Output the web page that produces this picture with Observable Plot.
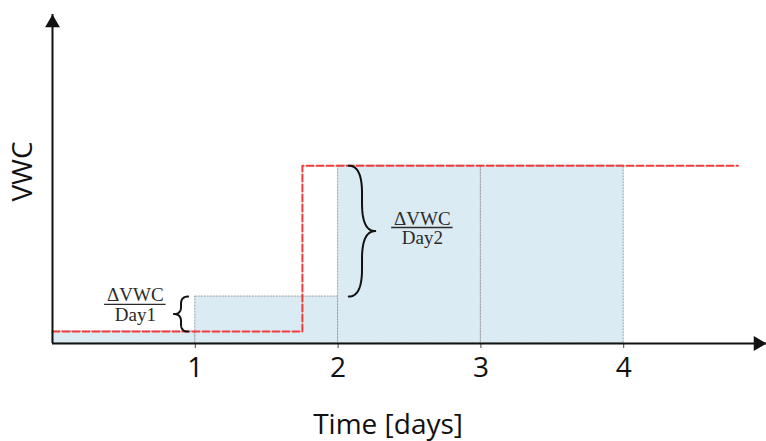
<!DOCTYPE html>
<html>
<head>
<meta charset="utf-8">
<script src="https://cdn.jsdelivr.net/npm/d3@7"></script>
<script src="https://cdn.jsdelivr.net/npm/@observablehq/plot@0.6"></script>
<style>
  html, body { margin: 0; padding: 0; background: #fff; }
  #chart svg { display: block; }
</style>
</head>
<body>
<div id="chart"></div>
<script>
// ---- data ----
const dayStart = [0, 1, 2, 3];
const dayEnd = [1, 2, 3, 4];
const vwcDaily = [0.067, 0.264, 1.0, 1.0];
const sensorTime = [0, 1.75, 4.8];
const sensorVWC = [0.067, 1.0, 1.0];
const xTicks = [1, 2, 3, 4];
const xMax = 5;
const yMax = 1.85;
const fractionLabels = ["Day1", "Day2"];

// ---- derived tables ----
const bars = dayStart.map((d, i) => ({x1: d, x2: dayEnd[i], y: vwcDaily[i]}));
const sensor = sensorTime.map((t, i) => ({x: t, y: sensorVWC[i]}));

// brace shape helper (decoration) in data coordinates
function quad(p0, c, p1, n = 14) {
  const out = [];
  for (let k = 0; k <= n; k++) {
    const t = k / n, u = 1 - t;
    out.push({x: u*u*p0[0] + 2*u*t*c[0] + t*t*p1[0], y: u*u*p0[1] + 2*u*t*c[1] + t*t*p1[1]});
  }
  return out;
}
function brace(xh, xt, yA, yB, id) {
  const xs = (xh + xt) / 2, ym = (yA + yB) / 2, r = (yB - yA) / 2 * 0.42;
  const pts = [
    ...quad([xh, yA], [xs, yA], [xs, yA + r]),
    ...quad([xs, ym - r], [xs, ym], [xt, ym]),
    ...quad([xt, ym], [xs, ym], [xs, ym + r]),
    ...quad([xs, yB - r], [xs, yB], [xh, yB])
  ];
  return pts.map(p => ({...p, id}));
}
const braces = [
  ...brace(0.95, 0.85, vwcDaily[0], vwcDaily[1], "b1"),
  ...brace(2.075, 2.26, vwcDaily[1], vwcDaily[2], "b2")
];
const fractions = [
  {x: 0.58, y: 0.22, den: fractionLabels[0]},
  {x: 2.59, y: 0.652, den: fractionLabels[1]}
];
const fracHalf = 0.215;

const plot = Plot.plot({
  width: 766,
  height: 441,
  marginLeft: 52,
  marginRight: 0,
  marginTop: 14,
  marginBottom: 98,
  x: {domain: [0, xMax], axis: null},
  y: {domain: [0, yMax], axis: null},
  style: {fontFamily: "'Open Sans', sans-serif", color: "#222", overflow: "visible"},
  marks: [
    Plot.rectY(bars, {x1: "x1", x2: "x2", y: "y", fill: "#dbebf3", stroke: "#8a8a8a", strokeWidth: 0.8, strokeDasharray: "2,1"}),
    Plot.line(sensor, {x: "x", y: "y", curve: "step-after", stroke: "#f03c3c", strokeWidth: 2, strokeDasharray: "7,3"}),
    Plot.line(braces, {x: "x", y: "y", z: "id", stroke: "#111", strokeWidth: 2, curve: "linear"}),
    Plot.text(fractions, {x: "x", y: "y", text: () => "ΔVWC", lineAnchor: "bottom", dy: -3, fontFamily: "'Liberation Serif', serif", fontSize: 19, fill: "#2a2a2a"}),
    Plot.text(fractions, {x: "x", y: "y", text: "den", lineAnchor: "top", dy: 3, fontFamily: "'Liberation Serif', serif", fontSize: 19, fill: "#2a2a2a"}),
    Plot.ruleY(fractions, {y: "y", x1: d => d.x - fracHalf, x2: d => d.x + fracHalf, stroke: "#2a2a2a", strokeWidth: 1.4}),
    Plot.axisX({ticks: xTicks, tickFormat: d => String(d), tickSize: 5, tickPadding: 9, fontSize: 28, label: null, stroke: "#444", fill: "#111"}),
    Plot.ruleY([0], {stroke: "#111", strokeWidth: 2}),
    Plot.ruleX([0], {stroke: "#111", strokeWidth: 2}),
    Plot.dot([{x: xMax, y: 0}], {x: "x", y: "y", symbol: "triangle", rotate: 90, r: 5.5, fill: "#111", stroke: null, dx: -8.5}),
    Plot.dot([{x: 0, y: yMax}], {x: "x", y: "y", symbol: "triangle", r: 5.5, fill: "#111", stroke: null, dy: 8.5}),
    Plot.text(["Time [days]"], {x: () => 2.35, frameAnchor: "bottom", lineAnchor: "top", dy: 71, fontSize: 28, fill: "#111"}),
    Plot.text(["VWC"], {x: () => -0.207, y: () => 0.967, rotate: -90, lineAnchor: "middle", fontSize: 28, fill: "#111"})
  ]
});
document.getElementById("chart").appendChild(plot);
</script>
</body>
</html>
